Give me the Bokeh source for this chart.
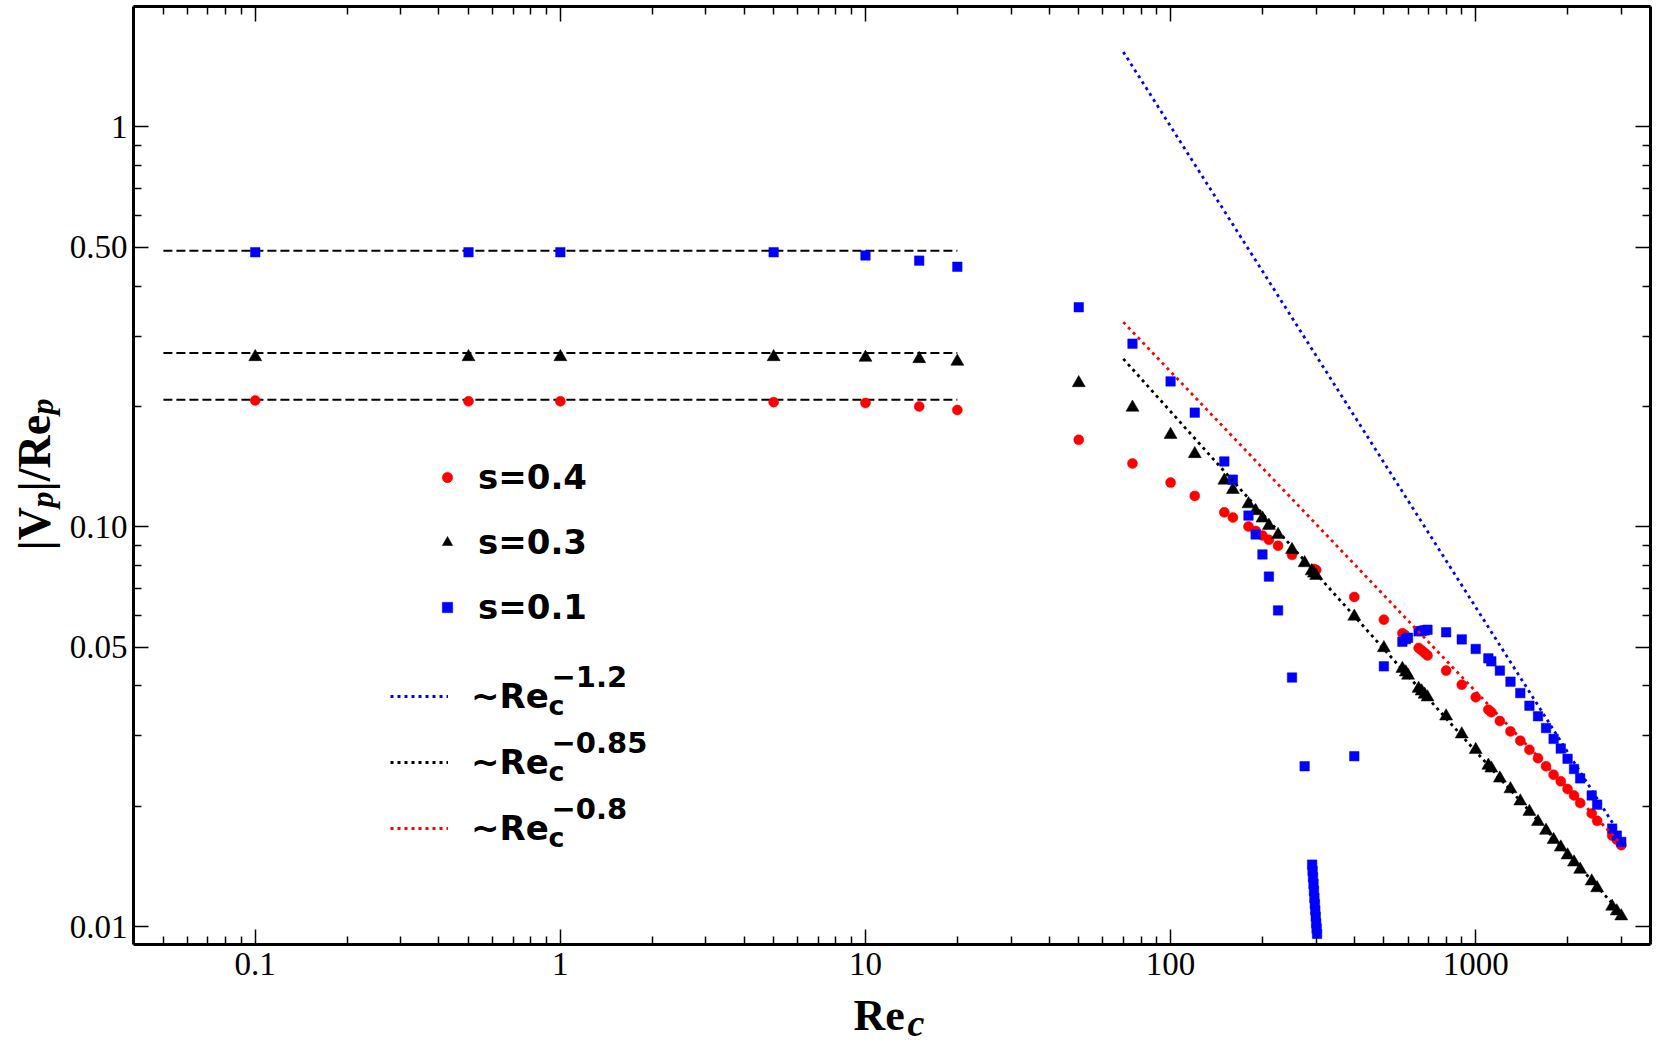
from math import pi, log10
from bokeh.plotting import figure
from bokeh.models import (ColumnDataSource, Range1d, LogAxis, FixedTicker,
                          Legend, LegendItem, Label)
from bokeh.embed import file_html
from bokeh.resources import INLINE

# ---------------- data ----------------
re_low = [0.1, 0.5, 1, 5, 10, 15, 20]
s04_low = [0.207, 0.206, 0.206, 0.205, 0.204, 0.200, 0.196]
s03_low = [0.266, 0.266, 0.266, 0.266, 0.265, 0.263, 0.259]
s01_low = [0.486, 0.486, 0.486, 0.486, 0.477, 0.463, 0.447]

plateau_re = [0.05, 20]
plateau_s04 = [0.208, 0.208]
plateau_s03 = [0.272, 0.272]
plateau_s01 = [0.490, 0.490]

re_s04 = [50, 75, 100, 120, 150, 160, 180, 190, 200, 210,
          225, 250, 295, 300, 400, 500, 575, 585, 650, 665,
          680, 695, 800, 900, 1000, 1100, 1125, 1200, 1300, 1400,
          1500, 1600, 1700, 1800, 1900, 2000, 2100, 2200, 2400, 2500,
          2800, 2900, 3000]
s04_high = [0.165, 0.144, 0.129, 0.1195, 0.1087, 0.1055, 0.1002, 0.0977, 0.0951, 0.0928,
            0.0897, 0.0851, 0.0785, 0.0780, 0.0668, 0.0586, 0.0542, 0.0537, 0.0498, 0.0491,
            0.0484, 0.0477, 0.0437, 0.0403, 0.0375, 0.0349, 0.0344, 0.0327, 0.0308, 0.0292,
            0.0277, 0.0264, 0.0252, 0.0240, 0.0231, 0.0221, 0.0213, 0.0204, 0.0192, 0.0184,
            0.0169, 0.0165, 0.0160]

re_s03 = [50, 75, 100, 120, 150, 160, 180, 190, 200, 210,
          225, 250, 275, 290, 295, 300, 400, 500, 575, 590,
          600, 650, 665, 680, 695, 800, 900, 1000, 1100, 1125,
          1200, 1300, 1400, 1500, 1600, 1700, 1800, 1900, 2000, 2100,
          2200, 2400, 2500, 2800, 2900, 3000]
s03_high = [0.2290, 0.1988, 0.1700, 0.1522, 0.1306, 0.1238, 0.1140, 0.1096, 0.1050, 0.1007,
            0.0955, 0.0876, 0.0812, 0.0775, 0.0765, 0.0755, 0.0597, 0.0498, 0.0442, 0.0433,
            0.0425, 0.0394, 0.0388, 0.0381, 0.0375, 0.0336, 0.0303, 0.0277, 0.0253, 0.0249,
            0.0235, 0.0221, 0.0206, 0.0194, 0.0183, 0.0174, 0.0165, 0.0158, 0.0151, 0.0145,
            0.0139, 0.0130, 0.0125, 0.01124, 0.01094, 0.01063]

re_s01 = [50, 75, 100, 120, 150, 160, 180, 190, 200, 210,
          225, 250, 275, 291, 292, 293, 294, 295, 296, 297,
          298, 299, 300, 301, 302, 400, 500, 575, 590, 600,
          650, 665, 680, 695, 800, 900, 1000, 1100, 1125, 1200,
          1300, 1400, 1500, 1600, 1700, 1800, 1900, 2000, 2100, 2200,
          2400, 2500, 2800, 2900, 3000]
s01_high = [0.354, 0.287, 0.231, 0.193, 0.1457, 0.1312, 0.1067, 0.0957, 0.0853, 0.0751,
            0.0618, 0.0420, 0.0252, 0.0143, 0.0138, 0.0133, 0.0128, 0.0123, 0.0118, 0.0114,
            0.0110, 0.0106, 0.0102, 0.0099, 0.0096, 0.0267, 0.0448, 0.0516, 0.0524, 0.0528,
            0.0548, 0.0549, 0.0551, 0.0553, 0.0545, 0.0523, 0.0495, 0.0469, 0.0461, 0.0437,
            0.0410, 0.0384, 0.0357, 0.0336, 0.0314, 0.0295, 0.0279, 0.0263, 0.0248, 0.0235,
            0.0213, 0.0202, 0.0176, 0.0169, 0.0163]

fit_re = [70, 3000]
fit_m12 = [1.54, 0.0168]
fit_m085 = [0.263, 0.0108]
fit_m08 = [0.325, 0.0161]

x_tick_vals = [0.1, 1, 10, 100, 1000]
x_tick_text = ["0.1", "1", "10", "100", "1000"]
y_tick_vals = [0.01, 0.05, 0.1, 0.5, 1]
y_tick_text = ["0.01", "0.05", "0.10", "0.50", "1"]

# visible axes box (data limits)
XV0, XV1 = 0.0399, 3740.0
YV0, YV1 = 0.00903, 2.0

# ---------------- layout ----------------
W, H = 1656, 1046
FL, FR, FT, FB = 133, 1650, 6, 944          # axes box in canvas pixels
kx = (FR - FL) / log10(XV1 / XV0)
ky = (FB - FT) / log10(YV1 / YV0)
x_start = XV0 * 10 ** (-FL / kx)
x_end = XV1 * 10 ** ((W - FR) / kx)
y_start = YV0 * 10 ** (-(H - FB) / ky)
y_end = YV1 * 10 ** (FT / ky)


def sx(px):
    return px


def sy(py):
    return H - py


p = figure(width=W, height=H, x_axis_type="log", y_axis_type="log",
           x_range=Range1d(x_start, x_end), y_range=Range1d(y_start, y_end),
           output_backend="svg", toolbar_location=None,
           min_border_left=0, min_border_right=0,
           min_border_top=0, min_border_bottom=0)
p.outline_line_color = None
p.xgrid.visible = False
p.ygrid.visible = False
p.background_fill_color = "white"
p.border_fill_color = "white"

x_minor = [m * 10.0 ** e for e in range(-2, 4) for m in range(2, 10)
           if 0.045 < m * 10.0 ** e < 3500]
y_minor = [m * 10.0 ** e for e in range(-2, 1) for m in (2, 3, 4, 6, 7, 8, 9)]


def style_axis(ax, labels):
    ax.axis_line_width = 3
    ax.axis_line_color = "black"
    ax.major_tick_in = 15
    ax.major_tick_out = 0
    ax.minor_tick_in = 8
    ax.minor_tick_out = 0
    ax.major_tick_line_width = 1.5
    ax.minor_tick_line_width = 1.5
    ax.major_tick_line_color = "black"
    ax.minor_tick_line_color = "black"
    if labels:
        ax.major_label_text_font = "Liberation Serif"
        ax.major_label_text_font_size = "33px"
        ax.major_label_text_color = "black"
    else:
        ax.major_label_text_font_size = "1px"
        ax.major_label_text_alpha = 0
        ax.major_label_standoff = 0


p.xaxis.ticker = FixedTicker(ticks=x_tick_vals, minor_ticks=x_minor)
p.yaxis.ticker = FixedTicker(ticks=y_tick_vals, minor_ticks=y_minor)
style_axis(p.xaxis[0], True)
style_axis(p.yaxis[0], True)
p.xaxis.major_label_overrides = dict(zip(x_tick_vals, x_tick_text))
p.yaxis.major_label_overrides = dict(zip(y_tick_vals, y_tick_text))
p.xaxis.major_label_standoff = 8
p.yaxis.major_label_standoff = 6
p.xaxis.fixed_location = YV0
p.xaxis.bounds = (XV0, XV1)
p.yaxis.fixed_location = XV0
p.yaxis.bounds = (YV0, YV1)

top_ax = LogAxis(ticker=FixedTicker(ticks=x_tick_vals, minor_ticks=x_minor),
                 fixed_location=YV1, bounds=(XV0, XV1))
right_ax = LogAxis(ticker=FixedTicker(ticks=y_tick_vals, minor_ticks=y_minor),
                   fixed_location=XV1, bounds=(YV0, YV1))
style_axis(top_ax, False)
style_axis(right_ax, False)
p.add_layout(top_ax, "above")
p.add_layout(right_ax, "right")

# plateau dashed lines
for yv in (plateau_s01, plateau_s03, plateau_s04):
    p.line(plateau_re, yv, line_color="black", line_width=2, line_dash="9 4")

src04 = ColumnDataSource(dict(x=re_low + re_s04, y=s04_low + s04_high))
src03 = ColumnDataSource(dict(x=re_low + re_s03, y=s03_low + s03_high))
src01 = ColumnDataSource(dict(x=re_low + re_s01, y=s01_low + s01_high))

r04 = p.scatter("x", "y", source=src04, marker="circle", size=10,
                fill_color="#ff0000", line_color="#ff0000", line_width=0.5)
r03 = p.scatter("x", "y", source=src03, marker="triangle", size=13,
                fill_color="black", line_color="black", line_width=0.5)
r01 = p.scatter("x", "y", source=src01, marker="square", size=9.5,
                fill_color="#0000ff", line_color="#0000ff", line_width=0.5)

f12 = p.line(fit_re, fit_m12, line_color="#0000ff", line_width=2.8, line_dash="3 4")
f085 = p.line(fit_re, fit_m085, line_color="black", line_width=2.8, line_dash="3 4")
f08 = p.line(fit_re, fit_m08, line_color="#ff0000", line_width=2.8, line_dash="3 4")

leg_common = dict(label_text_font="DejaVu Sans", label_text_font_style="bold",
                  label_text_font_size="34px", label_text_color="black",
                  padding=0, margin=0, border_line_color=None,
                  background_fill_alpha=0)

leg1 = Legend(items=[LegendItem(label="s=0.4", renderers=[r04]),
                     LegendItem(label="s=0.3", renderers=[r03]),
                     LegendItem(label="s=0.1", renderers=[r01])],
              location=(sx(434), sy(629)), glyph_width=26, glyph_height=44,
              label_height=44, label_standoff=18, spacing=21, **leg_common)
p.add_layout(leg1)

leg2 = Legend(items=[LegendItem(label="~Re", renderers=[f12]),
                     LegendItem(label="~Re", renderers=[f085]),
                     LegendItem(label="~Re", renderers=[f08])],
              location=(sx(390), sy(857)), glyph_width=58, glyph_height=58,
              label_height=40, label_standoff=23, spacing=8, **leg_common)
p.add_layout(leg2)

for sub_base, sup_base, expo in [(705, 676, "\u22121.2"), (771, 742, "\u22120.85"),
                                 (837, 808, "\u22120.8")]:
    p.add_layout(Label(x=sx(548), y=sy(sub_base), x_units="screen", y_units="screen",
                       text="c", text_font="DejaVu Sans", text_font_style="bold",
                       text_font_size="27px", text_color="black",
                       text_baseline="alphabetic", text_align="left"))
    p.add_layout(Label(x=sx(551), y=sy(sup_base), x_units="screen", y_units="screen",
                       text=expo, text_font="DejaVu Sans", text_font_style="bold",
                       text_font_size="29px", text_color="black",
                       text_baseline="alphabetic", text_align="left"))

# x axis title: Re_c
p.add_layout(Label(x=sx(853), y=sy(1015), x_units="screen", y_units="screen",
                   text="Re", text_font="Liberation Serif", text_font_style="bold",
                   text_font_size="44px", text_color="black",
                   text_baseline="alphabetic", text_align="left"))
p.add_layout(Label(x=sx(907), y=sy(1022), x_units="screen", y_units="screen",
                   text="c", text_font="Liberation Serif", text_font_style="bold italic",
                   text_font_size="38px", text_color="black",
                   text_baseline="alphabetic", text_align="left"))

# y axis title: |V_p|/Re_p (rotated)
ylab = [("|V", "bold", "46px", 34, 550),
        ("p", "bold italic", "32px", 41, 507),
        ("|/Re", "bold", "46px", 34, 491),
        ("p", "bold italic", "32px", 41, 414)]
for txt, sty, fs, bx, by in ylab:
    p.add_layout(Label(x=sx(bx), y=sy(by), x_units="screen", y_units="screen",
                       text=txt, text_font="Liberation Serif", text_font_style=sty,
                       text_font_size=fs, text_color="black", angle=pi / 2,
                       text_baseline="alphabetic", text_align="left"))

open("out.html", "w").write(file_html(p, INLINE))
